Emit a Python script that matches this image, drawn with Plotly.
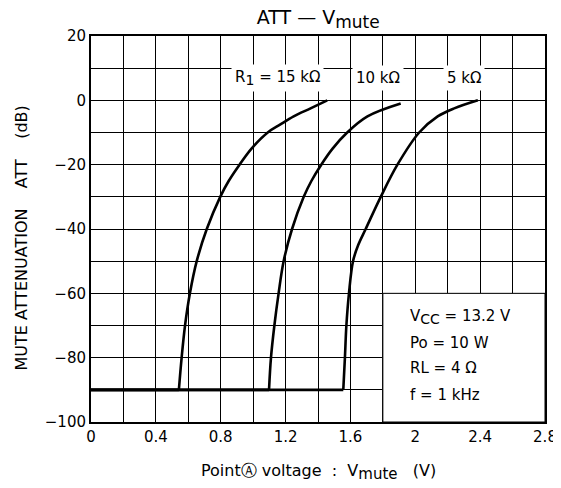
import plotly.graph_objects as go

# ---- data ----
x_15k = [0.0, 0.542, 0.559, 0.58, 0.61, 0.652, 0.714, 0.797, 0.85, 0.916, 0.99, 1.09, 1.168, 1.25, 1.354, 1.457]
y_15k = [-90, -90, -80, -70, -60, -50, -40, -30, -25, -20, -15, -10, -7.5, -5, -2.5, 0]

x_10k = [0.0, 1.098, 1.11, 1.131, 1.157, 1.188, 1.24, 1.312, 1.36, 1.42, 1.49, 1.58, 1.705, 1.91]
y_10k = [-90, -90, -80, -70, -60, -50, -40, -30, -25, -20, -15, -10, -5, -1]

x_5k = [0.0, 1.556, 1.566, 1.575, 1.591, 1.616, 1.648, 1.694, 1.787, 1.89, 2.024, 2.138, 2.24, 2.386]
y_5k = [-90, -90, -80, -70, -60, -50, -45, -40, -30, -20, -10, -5, -2.5, 0]

curve_labels = ["R<sub><span style='font-size:14px'>1</span></sub> = 15 kΩ", "10 kΩ", "5 kΩ"]
label_x = [1.15, 1.77, 2.30]
label_y = [7.0, 7.0, 7.0]

cond_lines = ["V<sub><span style='font-size:14px'>CC</span></sub> = 13.2 V", "Po = 10 W", "RL = 4 Ω", "f = 1 kHz"]
cond_y = [-67.3, -75.3, -83.2, -91.6]

x_ticks = [0, 0.4, 0.8, 1.2, 1.6, 2.0, 2.4, 2.8]
x_tick_text = ["0", "0.4", "0.8", "1.2", "1.6", "2", "2.4", "2.8"]
y_ticks = [20, 0, -20, -40, -60, -80, -100]

FONT = "DejaVu Sans"

fig = go.Figure()
for xs, ys in [(x_15k, y_15k), (x_10k, y_10k), (x_5k, y_5k)]:
    # flat muted part
    fig.add_trace(go.Scatter(x=xs[:2], y=ys[:2], mode="lines",
                             line=dict(color="black", width=2.6),
                             showlegend=False, hoverinfo="skip"))
    # rising part
    fig.add_trace(go.Scatter(x=xs[1:], y=ys[1:], mode="lines",
                             line=dict(color="black", width=2.6, shape="spline", smoothing=1.0),
                             showlegend=False, hoverinfo="skip"))

# white box for conditions (covers gridlines)
fig.add_shape(type="rect", x0=1.8, x1=2.8, y0=-100, y1=-60, xref="x", yref="y",
              fillcolor="white", line=dict(color="black", width=1), layer="between")

for t, xv, yv in zip(curve_labels, label_x, label_y):
    fig.add_annotation(x=xv, y=yv, text=t, showarrow=False, xref="x", yref="y",
                       bgcolor="white", borderpad=3,
                       font=dict(family=FONT, size=15, color="black"))

for t, yv in zip(cond_lines, cond_y):
    fig.add_annotation(x=1.956, y=yv, text=t, showarrow=False, xref="x", yref="y",
                       xanchor="left", font=dict(family=FONT, size=15, color="black"))

# axis titles
fig.add_annotation(x=0.5, y=-0.13, xref="paper", yref="paper", showarrow=False,
                   xanchor="center", yanchor="middle",
                   text="PointⒶ voltage  :  V<sub><span style='font-size:15px'>mute</span></sub>   (V)",
                   font=dict(family=FONT, size=16, color="black"))
fig.add_annotation(x=-0.152, y=0.478, xref="paper", yref="paper", showarrow=False, textangle=-90,
                   xanchor="center", yanchor="middle",
                   text="MUTE ATTENUATION    ATT    (dB)",
                   font=dict(family=FONT, size=16, color="black"))

# page body has an 8px margin, so the figure is 8px smaller and shifted
fig.update_layout(
    width=553, height=480,
    margin=dict(l=83, r=16, t=28, b=66, autoexpand=False),
    paper_bgcolor="white", plot_bgcolor="white",
    font=dict(family=FONT, size=15, color="black"),
    title=dict(text="ATT — V<sub><span style='font-size:17px'>mute</span></sub>", x=0.561, xref="container",
               xanchor="center", y=0.98, yref="container", yanchor="middle",
               font=dict(family=FONT, size=19, color="black")),
    showlegend=False,
)
fig.update_xaxes(range=[0, 2.8], tickvals=x_ticks, ticktext=x_tick_text,
                 showgrid=True, gridcolor="black", gridwidth=1,
                 minor=dict(dtick=0.2, showgrid=True, gridcolor="black", gridwidth=1),
                 showline=True, linecolor="black", linewidth=2, mirror=True,
                 ticks="", zeroline=False, tickfont=dict(size=15), automargin=False)
fig.update_yaxes(range=[-100, 20], tickvals=y_ticks,
                 showgrid=True, gridcolor="black", gridwidth=1,
                 minor=dict(dtick=10, showgrid=True, gridcolor="black", gridwidth=1),
                 showline=True, linecolor="black", linewidth=2, mirror=True,
                 ticks="", zeroline=False, tickfont=dict(size=15), automargin=False)

fig.write_html("out.html")
